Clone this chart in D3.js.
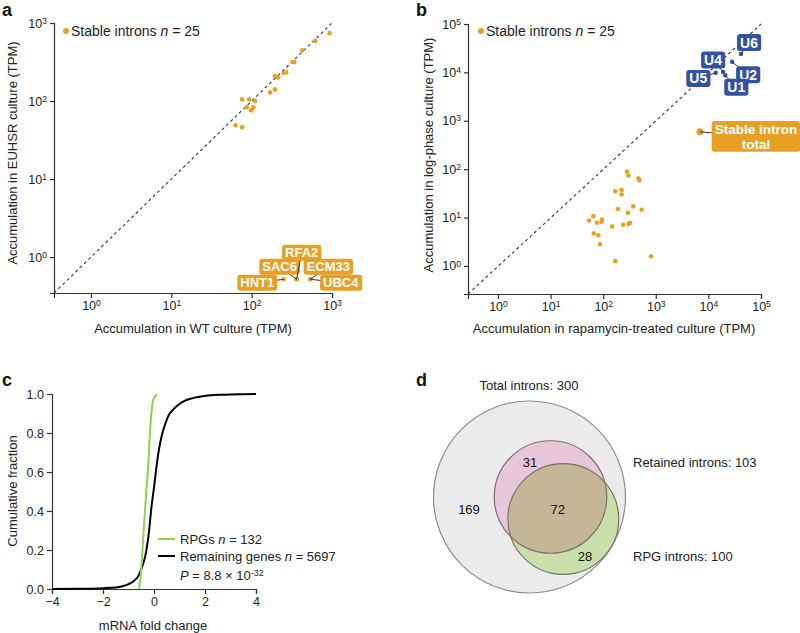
<!DOCTYPE html>
<html>
<head>
<meta charset="utf-8">
<script src="https://cdn.jsdelivr.net/npm/d3@7"></script>
<style>
  body { margin: 0; background: #fff; }
  svg { font-family: "Liberation Sans", Arial, sans-serif; }
  .axis path, .axis line { stroke: #333; stroke-width: 1.2; }
  .axis text { font-size: 12.5px; fill: #222; }
</style>
</head>
<body>
<svg id="fig" width="800" height="633"></svg>
<script>
// panel a: stable introns, WT vs EUHSR (TPM)
const aNames = ['', '', '', '', '', '', '', '', '', '', '', '', '', '', '', '', '', '', '', '', 'HNT1', 'SAC6', 'RFA2', 'ECM33', 'UBC4']
const aWT = [933, 617, 427, 324, 339, 269, 251, 195, 214, 170, 195, 76, 93, 110, 87, 105, 98, 63, 76, 331, 251, 363, 363, 537, 537]
const aEUHSR = [741, 589, 447, 316, 316, 234, 229, 209, 200, 129, 141, 105, 105, 100, 83, 83, 76, 49, 46, 316, 0.52, 0.52, 0.52, 0.52, 0.52]

// panel b: stable introns, rapamycin vs log-phase (TPM)
const bRapa = [282, 302, 468, 490, 170, 224, 224, 191, 372, 537, 295, 65, 54, 95, 93, 76, 302, 324, 240, 148, 66, 81, 87, 170, 813]
const bLog = [89, 74, 65, 59, 35, 37, 30, 15, 17, 14.5, 12.6, 10.7, 8.7, 9.1, 8.1, 7.8, 7.4, 7.8, 7.1, 6.5, 4.7, 4.3, 2.8, 1.26, 1.58]
const snNames = ['U6', 'U2', 'U4', 'U1', 'U5']
const snRapa = [41700, 28200, 19000, 20900, 13800]
const snLog = [24000, 16600, 10200, 8700, 9800]
const totalRapa = 6900
const totalLog = 590

// panel c: cumulative distributions of mRNA fold change
const rpgCdf = [[-0.6, 0], [-0.55, 0.03], [-0.5, 0.1], [-0.45, 0.2], [-0.38, 0.35], [-0.3, 0.5], [-0.22, 0.65], [-0.15, 0.82], [-0.08, 0.93], [-0.03, 0.97], [0.02, 0.985], [0.07, 0.99], [0.1, 1.0]]
const restCdf = [[-4, 0], [-3, 0.001], [-2, 0.004], [-1.5, 0.008], [-1.2, 0.015], [-1, 0.025], [-0.8, 0.04], [-0.6, 0.07], [-0.45, 0.12], [-0.34, 0.17], [-0.2, 0.29], [-0.1, 0.42], [0, 0.52], [0.1, 0.63], [0.2, 0.72], [0.31, 0.79], [0.45, 0.85], [0.57, 0.89], [0.75, 0.92], [0.96, 0.945], [1.2, 0.965], [1.55, 0.98], [2, 0.99], [2.6, 0.996], [3, 0.998], [4, 1.0]]
const cTicksX = [-4, -2, 0, 2, 4]
const cTicksY = [0, 0.2, 0.4, 0.6, 0.8, 1.0]

// panel d: intron sets
const vennSets = ['Total introns', 'Retained introns', 'RPG introns']
const vennTotals = [300, 103, 100]
const vennRegions = [169, 31, 72, 28]

const orange = '#e8a024'
const blue = '#3352a6'
const svg = d3.select('#fig')

function supTicks(g) {
  g.selectAll('.tick text').each(function (d) {
    const t = d3.select(this)
    t.text(null)
    t.append('tspan').text('10')
    t.append('tspan').attr('dy', '-0.45em').attr('font-size', '8.5px').text(Math.round(Math.log10(d)))
  })
}

function panelLetter(x, y, s) {
  svg.append('text').attr('x', x).attr('y', y).attr('font-size', '18px')
    .attr('font-weight', 'bold').attr('fill', '#111').text(s)
}

function legendDot(x, y) {
  svg.append('circle').attr('cx', x).attr('cy', y).attr('r', 3).attr('fill', orange)
  const t = svg.append('text').attr('x', x + 5).attr('y', y + 5).attr('font-size', '14px').attr('fill', '#222')
  t.append('tspan').text('Stable introns ')
  t.append('tspan').attr('font-style', 'italic').text('n')
  t.append('tspan').text(' = 25')
}

function labelBox(px, py, dx, dy, text, color, size) {
  const cx = px + dx, cy = py + dy
  svg.append('line').attr('x1', px).attr('y1', py).attr('x2', cx).attr('y2', cy)
    .attr('stroke', '#333').attr('stroke-width', 1)
  const g = svg.append('g')
  const lines = text.split('\n')
  const fs = size || 13
  const t = g.append('text').attr('font-size', fs + 'px').attr('font-weight', 'bold')
    .attr('fill', '#fff').attr('text-anchor', 'middle')
  lines.forEach((s, i) => {
    t.append('tspan').attr('x', cx).attr('y', cy + fs * 0.36 + (i - (lines.length - 1) / 2) * fs * 1.1).text(s)
  })
  const bb = t.node().getBBox()
  g.insert('rect', 'text').attr('x', bb.x - 3).attr('y', cy - bb.height / 2 - 0.5)
    .attr('width', bb.width + 6).attr('height', bb.height + 1).attr('rx', 3).attr('fill', color)
}

// ---------- panel a ----------
{
  const x = d3.scaleLog().domain([10 ** -0.46, 1000]).range([54, 332])
  const y = d3.scaleLog().domain([10 ** -0.46, 1000]).range([293, 23])
  svg.append('g').attr('class', 'axis').attr('transform', 'translate(0,293)')
    .call(d3.axisBottom(x).tickValues([1, 10, 100, 1000]).tickSizeOuter(0).tickSize(5))
    .call(supTicks)
  svg.append('g').attr('class', 'axis').attr('transform', 'translate(54,0)')
    .call(d3.axisLeft(y).tickValues([1, 10, 100, 1000]).tickSizeOuter(0).tickSize(4))
    .call(supTicks)
  svg.append('line').attr('x1', x.range()[0]).attr('y1', y.range()[0]).attr('x2', x.range()[1]).attr('y2', y.range()[1])
    .attr('stroke', '#333').attr('stroke-width', 1.1).attr('stroke-dasharray', '3,3')
  svg.append('g').selectAll('circle').data(aWT).join('circle')
    .attr('cx', d => x(d)).attr('cy', (d, i) => y(aEUHSR[i])).attr('r', 2.3).attr('fill', orange)
  const aLayout = {HNT1: [-26.5, 3.5], SAC6: [-17, -12.5], RFA2: [5, -26.5], ECM33: [18, -12.5], UBC4: [30.5, 3.5]}
  aNames.forEach((n, i) => {
    if (n) labelBox(x(aWT[i]), y(aEUHSR[i]), aLayout[n][0], aLayout[n][1], n, orange, 13)
  })
  legendDot(66, 31)
  svg.append('text').attr('x', 193).attr('y', 333).attr('text-anchor', 'middle').attr('font-size', '13px')
    .attr('fill', '#222').text('Accumulation in WT culture (TPM)')
  svg.append('text').attr('transform', 'translate(17,153) rotate(-90)').attr('text-anchor', 'middle')
    .attr('font-size', '13px').attr('fill', '#222').text('Accumulation in EUHSR culture (TPM)')
  panelLetter(2, 16, 'a')
}

// ---------- panel b ----------
{
  const x = d3.scaleLog().domain([10 ** -0.57, 1e5]).range([468, 761])
  const y = d3.scaleLog().domain([10 ** -0.58, 1e5]).range([294, 24])
  const tv = [1, 10, 100, 1000, 1e4, 1e5]
  svg.append('g').attr('class', 'axis').attr('transform', 'translate(0,294)')
    .call(d3.axisBottom(x).tickValues(tv).tickSizeOuter(0).tickSize(5))
    .call(supTicks)
  svg.append('g').attr('class', 'axis').attr('transform', 'translate(468,0)')
    .call(d3.axisLeft(y).tickValues(tv).tickSizeOuter(0).tickSize(4))
    .call(supTicks)
  svg.append('line').attr('x1', x.range()[0]).attr('y1', y.range()[0]).attr('x2', x.range()[1]).attr('y2', y.range()[1])
    .attr('stroke', '#333').attr('stroke-width', 1.1).attr('stroke-dasharray', '3,3')
  svg.append('g').selectAll('circle').data(bRapa).join('circle')
    .attr('cx', d => x(d)).attr('cy', (d, i) => y(bLog[i])).attr('r', 2.3).attr('fill', orange)
  const bLayout = {U6: [8, -11.5], U2: [16, 13], U4: [-10, -12], U1: [11, 12], U5: [-17.5, 5.6]}
  svg.append('g').selectAll('circle').data(snRapa).join('circle')
    .attr('cx', d => x(d)).attr('cy', (d, i) => y(snLog[i])).attr('r', 2.2).attr('fill', blue)
  snNames.forEach((n, i) => labelBox(x(snRapa[i]), y(snLog[i]), bLayout[n][0], bLayout[n][1], n, blue, 14))
  svg.append('circle').attr('cx', x(totalRapa)).attr('cy', y(totalLog)).attr('r', 3.5).attr('fill', orange)
  labelBox(x(totalRapa), y(totalLog), 56, 4.5, 'Stable intron\ntotal', orange, 13.5)
  legendDot(481, 31)
  svg.append('text').attr('x', 614).attr('y', 333).attr('text-anchor', 'middle').attr('font-size', '13px')
    .attr('fill', '#222').text('Accumulation in rapamycin-treated culture (TPM)')
  svg.append('text').attr('transform', 'translate(433,155) rotate(-90)').attr('text-anchor', 'middle')
    .attr('font-size', '13px').attr('fill', '#222').text('Accumulation in log-phase culture (TPM)')
  panelLetter(416, 16, 'b')
}

// ---------- panel c ----------
{
  const x = d3.scaleLinear().domain([-4, 4]).range([52, 256])
  const y = d3.scaleLinear().domain([0, 1]).range([589, 394])
  svg.append('g').attr('class', 'axis').attr('transform', 'translate(0,589)')
    .call(d3.axisBottom(x).tickValues(cTicksX).tickSizeOuter(0).tickSize(5).tickFormat(d => d < 0 ? '\u2212' + (-d) : d))
  svg.append('g').attr('class', 'axis').attr('transform', 'translate(52,0)')
    .call(d3.axisLeft(y).tickValues(cTicksY).tickSizeOuter(0).tickSize(5).tickFormat(d3.format('.1f')))
  const line = d3.line().x(d => x(d[0])).y(d => y(d[1])).curve(d3.curveMonotoneX)
  svg.append('path').attr('d', line(restCdf)).attr('fill', 'none').attr('stroke', '#000').attr('stroke-width', 2)
  svg.append('path').attr('d', line(rpgCdf)).attr('fill', 'none').attr('stroke', '#92d050').attr('stroke-width', 2)
  const leg = [['#92d050', 'RPGs ', '132', 539], ['#000', 'Remaining genes ', '5697', 556]]
  leg.forEach(l => {
    svg.append('line').attr('x1', 158).attr('x2', 175).attr('y1', l[3]).attr('y2', l[3]).attr('stroke', l[0]).attr('stroke-width', 2)
    const t = svg.append('text').attr('x', 180).attr('y', l[3] + 4.5).attr('font-size', '13px').attr('fill', '#222')
    t.append('tspan').text(l[1])
    t.append('tspan').attr('font-style', 'italic').text('n')
    t.append('tspan').text(' = ' + l[2])
  })
  const p = svg.append('text').attr('x', 180).attr('y', 580).attr('font-size', '13px').attr('fill', '#222')
  p.append('tspan').attr('font-style', 'italic').text('P')
  p.append('tspan').text(' = 8.8 \u00d7 10')
  p.append('tspan').attr('dy', '-0.45em').attr('font-size', '9px').text('-32')
  svg.append('text').attr('x', 153).attr('y', 630).attr('text-anchor', 'middle').attr('font-size', '13px')
    .attr('fill', '#222').text('mRNA fold change')
  svg.append('text').attr('transform', 'translate(17,491) rotate(-90)').attr('text-anchor', 'middle')
    .attr('font-size', '13px').attr('fill', '#222').text('Cumulative fraction')
  panelLetter(2, 386, 'c')
}

// ---------- panel d ----------
{
  const r = d3.scaleSqrt().domain([0, vennTotals[0]]).range([0, 96])
  const centers = [[529.5, 497], [550.5, 497], [563.3, 519]]
  const fills = ['#ebebeb', '#e7c6d8', '#c9e0ad']
  const strokes = ['#8c8c8c', '#7d6f75', '#6f7866']
  vennTotals.forEach((v, i) => {
    svg.append('circle').attr('cx', centers[i][0]).attr('cy', centers[i][1]).attr('r', r(v))
      .attr('fill', fills[i]).attr('stroke', 'none')
  })
  svg.append('clipPath').attr('id', 'pinkclip').append('circle')
    .attr('cx', centers[1][0]).attr('cy', centers[1][1]).attr('r', r(vennTotals[1]))
  svg.append('circle').attr('cx', centers[2][0]).attr('cy', centers[2][1]).attr('r', r(vennTotals[2]))
    .attr('fill', '#c5b698').attr('clip-path', 'url(#pinkclip)')
  vennTotals.forEach((v, i) => {
    svg.append('circle').attr('cx', centers[i][0]).attr('cy', centers[i][1]).attr('r', r(v))
      .attr('fill', 'none').attr('stroke', strokes[i]).attr('stroke-width', 1.2)
  })
  const regionPos = [[469, 509], [530, 462], [557.7, 509], [585, 556]]
  vennRegions.forEach((v, i) => {
    svg.append('text').attr('x', regionPos[i][0]).attr('y', regionPos[i][1] + 5).attr('text-anchor', 'middle')
      .attr('font-size', '13px').attr('fill', '#111').text(v)
  })
  svg.append('text').attr('x', 529).attr('y', 390).attr('text-anchor', 'middle').attr('font-size', '13px')
    .attr('fill', '#222').text(vennSets[0] + ': ' + vennTotals[0])
  svg.append('text').attr('x', 633).attr('y', 467).attr('font-size', '13px')
    .attr('fill', '#222').text(vennSets[1] + ': ' + vennTotals[1])
  svg.append('text').attr('x', 633).attr('y', 561).attr('font-size', '13px')
    .attr('fill', '#222').text(vennSets[2] + ': ' + vennTotals[2])
  panelLetter(416, 386, 'd')
}
</script>
</body>
</html>
